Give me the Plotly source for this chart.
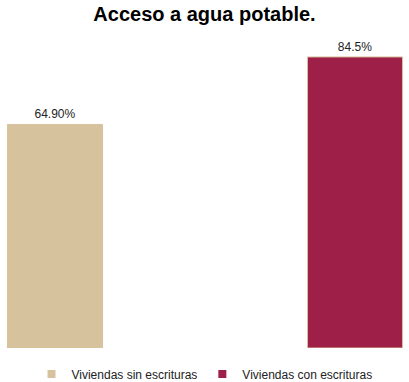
import plotly.graph_objects as go

categories = ["Viviendas sin escrituras", "Viviendas con escrituras"]
values = [64.90, 84.5]
labels = ["64.90%", "84.5%"]
colors = ["#D6C39D", "#9E1F47"]
border = "#D6C39D"

fig = go.Figure()
for cat, val, lab, col in zip(categories, values, labels, colors):
    fig.add_trace(go.Bar(
        x=[cat], y=[val], name=cat, text=[lab], textposition="outside",
        textfont=dict(size=12, color="#222222", family="Liberation Sans, Arial"),
        marker=dict(color=col, line=dict(color=border, width=1)),
        width=0.317, cliponaxis=False, showlegend=False,
    ))
# legend entries with small square symbols
for cat, col in zip(categories, colors):
    fig.add_trace(go.Scatter(
        x=[None], y=[None], mode="markers", name=cat,
        marker=dict(symbol="square", size=8, color=col, line=dict(width=0)),
    ))

fig.update_layout(
    width=409, height=382,
    margin=dict(l=0, r=0, t=38, b=34, autoexpand=False),
    paper_bgcolor="white", plot_bgcolor="white",
    barmode="overlay",
    title=dict(text="<b>Acceso a agua potable.</b>", x=0.5, xanchor="center",
               y=0.963, yanchor="middle",
               font=dict(size=20, color="#000000", family="Liberation Sans, Arial")),
    font=dict(family="Liberation Sans, Arial", size=12, color="#222222"),
    xaxis=dict(type="category", range=[-55/300, (409-55)/300], showticklabels=False,
               showgrid=False, zeroline=False, showline=False, ticks=""),
    yaxis=dict(range=[0, 90], showticklabels=False, showgrid=False, zeroline=False,
               showline=False, ticks=""),
    legend=dict(orientation="h", x=0.5, xanchor="center", y=-0.084, yanchor="middle",
                font=dict(size=12, color="#222222"), itemwidth=30),
    showlegend=True,
)

fig.write_html("out.html", config={"displayModeBar": False},
               post_script="document.body.style.margin='0';document.body.style.overflow='hidden';")
